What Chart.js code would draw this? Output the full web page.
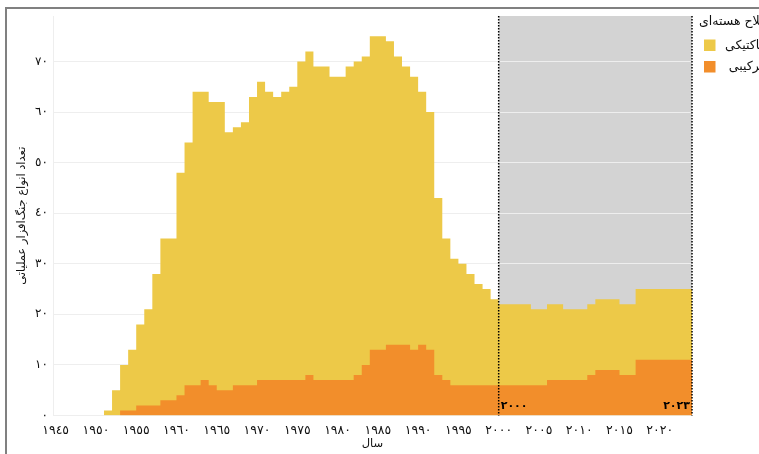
<!DOCTYPE html>
<html><head><meta charset="utf-8">
<script src="https://cdn.jsdelivr.net/npm/chart.js@4"></script>
<style>
html,body{margin:0;padding:0;overflow:hidden;background:#fff;width:759px;height:454px}
#wrap{position:absolute;left:0;top:0;width:759px;height:454px}
#frame{position:absolute;left:5px;top:7px;width:900px;height:600px;border-left:2px solid #808080;border-top:2px solid #808080;pointer-events:none}
</style></head><body>
<div id="wrap"><canvas id="c" width="759" height="454"></canvas></div>
<div id="frame"></div>
<script>
// ---- data ----
const years = [1951,1952,1953,1954,1955,1956,1957,1958,1959,1960,
  1961,1962,1963,1964,1965,1966,1967,1968,1969,1970,
  1971,1972,1973,1974,1975,1976,1977,1978,1979,1980,
  1981,1982,1983,1984,1985,1986,1987,1988,1989,1990,
  1991,1992,1993,1994,1995,1996,1997,1998,1999,2000,
  2001,2002,2003,2004,2005,2006,2007,2008,2009,2010,
  2011,2012,2013,2014,2015,2016,2017,2018,2019,2020,
  2021,2022,2023];
// orange series (bottom of stack)
const combinedValues = [0,0,1,1,2,2,2,3,3,4,
  6,6,7,6,5,5,6,6,6,7,
  7,7,7,7,7,8,7,7,7,7,
  7,8,10,13,13,14,14,14,13,14,
  13,8,7,6,6,6,6,6,6,6,
  6,6,6,6,6,7,7,7,7,7,
  8,9,9,9,8,8,11,11,11,11,
  11,11,11];
// yellow series (stacked on top)
const tacticalValues = [1,5,9,12,16,19,26,32,32,44,
  48,58,57,56,57,51,51,52,57,59,
  57,56,57,58,63,64,62,62,60,60,
  62,62,61,62,62,60,57,55,54,50,
  47,35,28,25,24,22,20,19,17,16,
  16,16,16,15,15,15,15,14,14,14,
  14,14,14,14,14,14,14,14,14,14,
  14,14,14];
const seriesNames = ['تاکتیکی', 'ترکیبی'];
const legendTitle = 'سلاح هسته‌ای';
const xTickYears = [1945,1950,1955,1960,1965,1970,1975,1980,1985,1990,1995,2000,2005,2010,2015,2020];
const yTickValues = [0,10,20,30,40,50,60,70];
const shadeYears = [2000, 2023];
const xTitle = 'سال';
const yTitle = 'تعداد انواع جنگ‌افزار عملیاتی';

// ---- helpers ----
const arDigits = '٠١٢٣٤٥٦٧٨٩';
const toFa = n => String(n).replace(/\d/g, d => arDigits[d]);
const stepPoints = vals => {
  const pts = years.map((y, i) => ({x: y, y: vals[i]}));
  pts.push({x: years[years.length - 1] + 1, y: vals[vals.length - 1]});
  return pts;
};
const YELLOW = '#EDC948', ORANGE = '#F28E2B';
const FONT = 'DejaVu Sans';
const TXT = '#111';

const shadePlugin = {
  id: 'shade',
  beforeDraw(chart) {
    const {ctx, chartArea: a, scales: {x}} = chart;
    const x0 = x.getPixelForValue(shadeYears[0]);
    const x1 = x.getPixelForValue(shadeYears[1] + 1);
    ctx.save();
    ctx.fillStyle = '#d3d3d3';
    ctx.fillRect(x0, a.top, x1 - x0, a.bottom - a.top);
    ctx.restore();
  },
  afterDatasetsDraw(chart) {
    const {ctx, chartArea: a, scales: {x}} = chart;
    const x0 = x.getPixelForValue(shadeYears[0]);
    const x1 = x.getPixelForValue(shadeYears[1] + 1);
    ctx.save();
    ctx.strokeStyle = '#000';
    ctx.lineWidth = 1.5;
    ctx.setLineDash([1.5, 1.5]);
    [x0, x1].forEach(px => {
      ctx.beginPath();
      ctx.moveTo(px, a.top);
      ctx.lineTo(px, a.bottom);
      ctx.stroke();
    });
    ctx.setLineDash([]);
    ctx.fillStyle = '#000';
    ctx.font = 'bold 11px "' + FONT + '"';
    ctx.textBaseline = 'middle';
    ctx.textAlign = 'left';
    ctx.fillText(toFa(shadeYears[0]), x0 + 2, a.bottom - 9);
    ctx.textAlign = 'right';
    ctx.fillText(toFa(shadeYears[1]), x1 - 2, a.bottom - 9);
    ctx.restore();
  },
  afterDraw(chart) {
    const {ctx, chartArea: a} = chart;
    const lx = a.right + 7;
    ctx.save();
    ctx.fillStyle = TXT;
    ctx.textBaseline = 'middle';
    ctx.font = '12.5px "' + FONT + '"';
    ctx.textAlign = 'left';
    ctx.fillText(legendTitle, lx, 22);
    const colors = [YELLOW, ORANGE];
    const anchor = lx + 26 + ctx.measureText(seriesNames[0]).width;
    seriesNames.forEach((name, i) => {
      const cy = 45.5 + i * 21.5;
      ctx.fillStyle = colors[i];
      ctx.fillRect(lx + 5, cy - 6, 11.5, 11.5);
      ctx.fillStyle = TXT;
      ctx.textAlign = 'right';
      ctx.fillText(name, anchor, cy);
    });
    ctx.restore();
  }
};

const common = {fill: 'origin', stepped: 'before', pointRadius: 0, borderWidth: 0, borderColor: 'rgba(0,0,0,0)'};

new Chart(document.getElementById('c').getContext('2d'), {
  type: 'line',
  data: {
    datasets: [
      Object.assign({label: seriesNames[1], data: stepPoints(combinedValues), backgroundColor: ORANGE}, common),
      Object.assign({label: seriesNames[0], data: stepPoints(tacticalValues), backgroundColor: YELLOW}, common)
    ]
  },
  options: {
    responsive: false,
    animation: false,
    events: [],
    layout: {padding: {left: 0, right: 67, top: 16, bottom: 0}},
    plugins: {legend: {display: false}, tooltip: {enabled: false}},
    scales: {
      x: {
        type: 'linear', min: 1944.67, max: years[years.length - 1] + 1,
        afterBuildTicks: s => { s.ticks = xTickYears.map(v => ({value: v})); },
        afterFit: s => { s.height = 38.5; },
        ticks: {callback: v => toFa(v), font: {family: FONT, size: 12.5}, color: TXT, padding: 8, maxRotation: 0, autoSkip: false},
        grid: {display: false, drawTicks: false},
        border: {display: false},
        title: {display: true, text: xTitle, font: {family: FONT, size: 11.5}, color: TXT, padding: {top: 0, bottom: 3}}
      },
      y: {
        stacked: true, min: 0, max: 79,
        afterBuildTicks: s => { s.ticks = yTickValues.map(v => ({value: v})); },
        afterFit: s => { s.width = 53; },
        ticks: {callback: v => toFa(v), font: {family: FONT, size: 12}, color: TXT, padding: 5},
        grid: {color: '#eeeeee', drawTicks: false},
        border: {display: true, color: '#eeeeee'},
        title: {display: true, text: yTitle, font: {family: FONT, size: 11.5}, color: TXT, padding: {top: 15, bottom: 0}}
      }
    }
  },
  plugins: [shadePlugin]
});
</script>
</body></html>
